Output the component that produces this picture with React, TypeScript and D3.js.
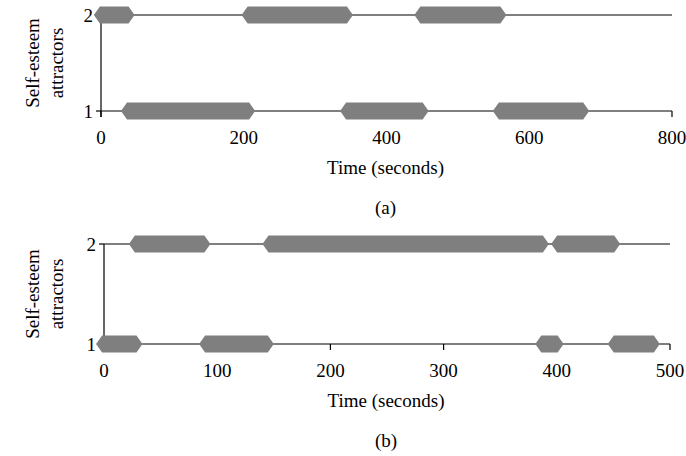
import React from "react";
import * as d3 from "d3";

const topLevel2: [number, number][] = [[-10, 47], [197, 353], [439, 568]];
const topLevel1: [number, number][] = [[28, 216], [335, 459], [549, 684]];
const botLevel2: [number, number][] = [[22, 94], [140, 393], [395, 456]];
const botLevel1: [number, number][] = [[-7, 34], [84, 150], [381, 406], [445, 491]];
const topTicks = [0, 200, 400, 600, 800];
const botTicks = [0, 100, 200, 300, 400, 500];

const FONT = "'Liberation Serif', 'Times New Roman', serif";

function Panel({ x0, x1, yTop, yBot, max, ticks, l2, l1, label }: any) {
  const x = d3.scaleLinear().domain([0, max]).range([x0, x1]);
  const y = d3.scaleLinear().domain([1, 2]).range([yBot, yTop]);
  const h = 8.5, tip = 6;
  const hex = (a: number, b: number, yy: number) => {
    const xa = x(a), xb = x(b);
    return `M${xa},${yy} L${xa + tip},${yy - h} L${xb - tip},${yy - h} L${xb},${yy} L${xb - tip},${yy + h} L${xa + tip},${yy + h} Z`;
  };
  const midY = (yTop + yBot) / 2;
  return (
    <g fontFamily={FONT} fill="#000">
      <line x1={x0} x2={x1} y1={y(2)} y2={y(2)} stroke="#000" strokeWidth={1.2} />
      <line x1={x0} x2={x1} y1={y(1)} y2={y(1)} stroke="#000" strokeWidth={1.2} />
      <line x1={x0} x2={x0} y1={y(2)} y2={y(1) + 6} stroke="#000" strokeWidth={1.2} />
      {[1, 2].map(v => (
        <g key={v}>
          <line x1={x0 - 5} x2={x0} y1={y(v)} y2={y(v)} stroke="#000" strokeWidth={1.2} />
          <text x={x0 - 8} y={y(v)} dy="0.35em" textAnchor="end" fontSize={19}>{v}</text>
        </g>
      ))}
      {ticks.map((t: number) => (
        <g key={t}>
          <line x1={x(t)} x2={x(t)} y1={y(1)} y2={y(1) + 6} stroke="#000" strokeWidth={1.2} />
          <text x={x(t)} y={y(1) + 33} textAnchor="middle" fontSize={19}>{t}</text>
        </g>
      ))}
      {l2.map((s: [number, number], i: number) => <path key={"a" + i} d={hex(s[0], s[1], y(2))} fill="#7f7f7f" />)}
      {l1.map((s: [number, number], i: number) => <path key={"b" + i} d={hex(s[0], s[1], y(1))} fill="#7f7f7f" />)}
      <text x={(x0 + x1) / 2 - 1} y={y(1) + 63} textAnchor="middle" fontSize={19}>Time (seconds)</text>
      <text x={(x0 + x1) / 2 - 1} y={y(1) + 103} textAnchor="middle" fontSize={19}>{label}</text>
      <text transform={`translate(39,${midY}) rotate(-90)`} textAnchor="middle" fontSize={19}>Self-esteem</text>
      <text transform={`translate(63,${midY}) rotate(-90)`} textAnchor="middle" fontSize={19}>attractors</text>
    </g>
  );
}

export default function App() {
  return (
    <svg width={686} height={456} style={{ position: "absolute", left: 0, top: 0, background: "#fff" }}>
      <Panel x0={101} x1={672} yTop={15} yBot={111} max={800} ticks={topTicks} l2={topLevel2} l1={topLevel1} label="(a)" />
      <Panel x0={104} x1={670} yTop={244} yBot={344} max={500} ticks={botTicks} l2={botLevel2} l1={botLevel1} label="(b)" />
    </svg>
  );
}
